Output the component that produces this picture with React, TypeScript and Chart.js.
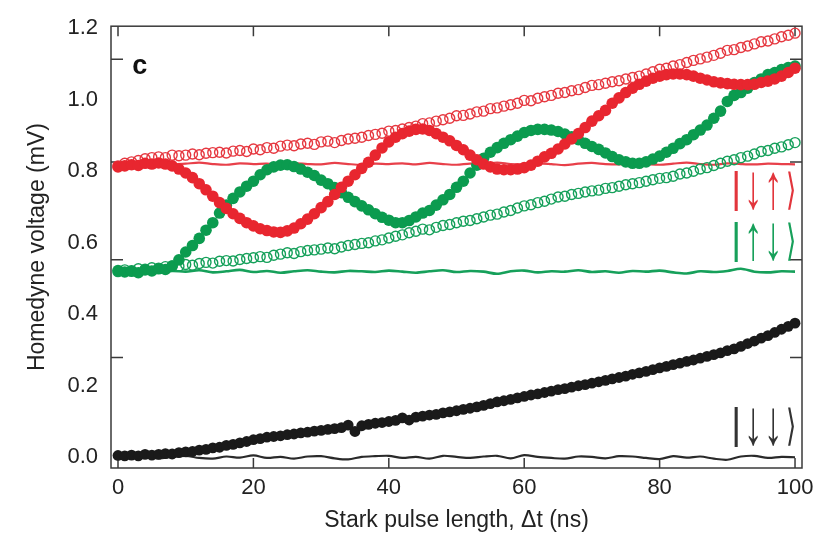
import React, { useEffect, useRef } from "react";
import { Chart, registerables } from "chart.js";

Chart.register(...registerables);

// ---- data ----
const timeNs = [
  0, 1, 2, 3, 4, 5, 6, 7, 8, 9, 10, 11, 12, 13, 14, 15, 16, 17, 18, 19, 20,
  21, 22, 23, 24, 25, 26, 27, 28, 29, 30, 31, 32, 33, 34, 35, 36, 37, 38, 39, 40,
  41, 42, 43, 44, 45, 46, 47, 48, 49, 50, 51, 52, 53, 54, 55, 56, 57, 58, 59, 60,
  61, 62, 63, 64, 65, 66, 67, 68, 69, 70, 71, 72, 73, 74, 75, 76, 77, 78, 79, 80,
  81, 82, 83, 84, 85, 86, 87, 88, 89, 90, 91, 92, 93, 94, 95, 96, 97, 98, 99, 100,
];

const lineTimeNs = [
  0, 2, 4, 6, 8, 10, 12, 14, 16, 18, 20, 22, 24, 26, 28, 30, 32, 34, 36, 38, 40,
  42, 44, 46, 48, 50, 52, 54, 56, 58, 60, 62, 64, 66, 68, 70, 72, 74, 76, 78, 80,
  82, 84, 86, 88, 90, 92, 94, 96, 98, 100,
];

const redFilled = [
  0.812, 0.815, 0.818, 0.816, 0.822, 0.82, 0.823, 0.82, 0.815, 0.806,
  0.795, 0.782, 0.765, 0.748, 0.73, 0.712, 0.696, 0.681, 0.668, 0.656,
  0.647, 0.639, 0.634, 0.63, 0.629, 0.633, 0.641, 0.653, 0.666, 0.681,
  0.698, 0.715, 0.735, 0.755, 0.772, 0.79, 0.808, 0.825, 0.845, 0.865,
  0.882, 0.895, 0.905, 0.912, 0.917, 0.918, 0.914, 0.905, 0.895, 0.885,
  0.872, 0.86, 0.845, 0.832, 0.82, 0.812, 0.806, 0.804, 0.804, 0.806,
  0.81, 0.817, 0.828, 0.84, 0.85, 0.862, 0.876, 0.89, 0.905, 0.922,
  0.94, 0.955, 0.97, 0.99, 1.005, 1.02, 1.032, 1.043, 1.052, 1.06,
  1.066, 1.07, 1.072, 1.072, 1.07, 1.066, 1.06, 1.055, 1.05, 1.047,
  1.045, 1.043, 1.042, 1.042, 1.043, 1.048, 1.052, 1.058, 1.066, 1.076,
  1.088,
];

const redOpen = [
  0.815, 0.822, 0.826, 0.83, 0.835, 0.838, 0.84, 0.838, 0.845, 0.843,
  0.845, 0.848, 0.846, 0.85, 0.852, 0.853, 0.851, 0.856, 0.858, 0.855,
  0.862, 0.86, 0.866, 0.864, 0.87, 0.873, 0.871, 0.876, 0.878, 0.875,
  0.882, 0.884, 0.88, 0.886, 0.89, 0.892, 0.895, 0.9, 0.903, 0.906,
  0.912, 0.914, 0.918, 0.922, 0.926, 0.933, 0.935, 0.94, 0.944, 0.948,
  0.955, 0.956, 0.96, 0.966, 0.968, 0.975, 0.977, 0.982, 0.986, 0.99,
  0.998, 0.997, 1.004, 1.008, 1.012, 1.018, 1.02, 1.025, 1.028, 1.034,
  1.04, 1.042, 1.046, 1.05, 1.053, 1.058, 1.062, 1.066, 1.072, 1.078,
  1.085, 1.088, 1.094, 1.098, 1.104, 1.11, 1.114, 1.119, 1.124, 1.13,
  1.138, 1.14, 1.146, 1.15, 1.156, 1.162, 1.164, 1.17, 1.176, 1.18,
  1.186,
];

const greenFilled = [
  0.522, 0.518, 0.52, 0.516, 0.524, 0.521, 0.527, 0.525, 0.535, 0.552,
  0.574, 0.592, 0.612, 0.635, 0.656, 0.683, 0.705, 0.724, 0.742, 0.758,
  0.772, 0.79, 0.804, 0.812, 0.817, 0.818, 0.813, 0.806, 0.797, 0.788,
  0.775, 0.765, 0.754, 0.74, 0.727, 0.715, 0.703, 0.692, 0.681, 0.671,
  0.663, 0.656, 0.656, 0.662, 0.672, 0.683, 0.69, 0.705, 0.72, 0.735,
  0.755, 0.772, 0.795, 0.817, 0.836, 0.853, 0.866, 0.878, 0.888, 0.898,
  0.908, 0.914, 0.917, 0.917, 0.915, 0.911, 0.904, 0.896, 0.888, 0.878,
  0.869, 0.861, 0.851, 0.841, 0.832, 0.826, 0.822, 0.822, 0.826, 0.834,
  0.842, 0.853, 0.864, 0.877, 0.888, 0.902, 0.915, 0.929, 0.948, 0.968,
  0.995, 1.012, 1.02, 1.032, 1.048, 1.058, 1.07, 1.076, 1.084, 1.09,
  1.094,
];

const greenOpen = [
  0.519, 0.524, 0.522, 0.527, 0.526, 0.53, 0.529, 0.533, 0.535, 0.534,
  0.539, 0.537, 0.542, 0.545, 0.543, 0.548, 0.55, 0.549, 0.553, 0.556,
  0.558, 0.561, 0.559, 0.565, 0.568, 0.572, 0.57, 0.575, 0.578, 0.58,
  0.582, 0.585, 0.583, 0.588, 0.592, 0.595, 0.598, 0.6, 0.605, 0.608,
  0.613, 0.618, 0.622, 0.628, 0.632, 0.638, 0.636, 0.643, 0.648, 0.651,
  0.656, 0.66, 0.662, 0.667, 0.672, 0.677, 0.68, 0.686, 0.69, 0.697,
  0.703, 0.706, 0.712, 0.716, 0.722, 0.728, 0.73, 0.735, 0.738, 0.742,
  0.745, 0.747, 0.752, 0.754, 0.758, 0.762, 0.765, 0.768, 0.772, 0.776,
  0.78, 0.782, 0.786, 0.792, 0.795, 0.8, 0.806, 0.81, 0.816, 0.822,
  0.828, 0.832, 0.838, 0.842, 0.848, 0.855, 0.858, 0.864, 0.868, 0.874,
  0.88,
];

const blackFilled = [
  0.005, 0.004, 0.006, 0.004, 0.008, 0.006, 0.008, 0.01, 0.009, 0.013,
  0.015, 0.016, 0.02, 0.022, 0.026, 0.028, 0.033, 0.036, 0.04, 0.044,
  0.049, 0.052, 0.056, 0.058, 0.06, 0.063, 0.065, 0.068, 0.07, 0.073,
  0.075, 0.078, 0.08, 0.083, 0.09, 0.072, 0.088, 0.092, 0.095, 0.097,
  0.1, 0.103, 0.11, 0.104, 0.112, 0.115, 0.118, 0.12, 0.124, 0.127,
  0.13, 0.134, 0.137, 0.141, 0.145, 0.15, 0.155, 0.158, 0.162, 0.166,
  0.17, 0.174, 0.177, 0.181, 0.185, 0.189, 0.192, 0.196, 0.2, 0.203,
  0.207, 0.211, 0.215, 0.219, 0.223, 0.227, 0.232, 0.236, 0.24, 0.245,
  0.25, 0.254, 0.259, 0.263, 0.268, 0.272, 0.277, 0.282, 0.287, 0.292,
  0.298, 0.303, 0.31, 0.318, 0.325, 0.333, 0.34, 0.349, 0.358, 0.366,
  0.375,
];

const redLine = [
  0.818, 0.822, 0.82, 0.823, 0.819, 0.821, 0.824, 0.82, 0.818, 0.822,
  0.82, 0.821, 0.817, 0.822, 0.82, 0.819, 0.823, 0.82, 0.818, 0.821,
  0.82, 0.822, 0.819, 0.823, 0.82, 0.818, 0.821, 0.82, 0.824, 0.82,
  0.819, 0.822, 0.82, 0.817, 0.821, 0.823, 0.82, 0.819, 0.822, 0.82,
  0.818, 0.821, 0.824, 0.82, 0.818, 0.822, 0.82, 0.819, 0.821, 0.82,
  0.819,
];

const greenLine = [
  0.522, 0.518, 0.52, 0.516, 0.521, 0.519, 0.523, 0.517, 0.52, 0.524,
  0.518, 0.521, 0.516, 0.52, 0.523, 0.519, 0.517, 0.521, 0.52, 0.518,
  0.522, 0.519, 0.516, 0.52, 0.523, 0.518, 0.521, 0.519, 0.513, 0.52,
  0.522, 0.517, 0.52, 0.519, 0.523, 0.518, 0.52, 0.516, 0.521, 0.519,
  0.522, 0.517, 0.514, 0.52, 0.518, 0.521, 0.527, 0.519, 0.517, 0.52,
  0.519,
];

const blackLine = [
  0.003, -0.002, 0.002, -0.003, 0.001, 0.004, -0.002, -0.004, 0.002, -0.001,
  0.005, -0.002, 0.001, -0.004, 0.002, 0.003, -0.003, -0.006, 0.001, 0.003,
  0.004, -0.002, 0.001, -0.004, 0.004, 0.001, -0.002, 0.002, 0.004, -0.003,
  0.006, 0.001, -0.002, -0.004, 0.002, 0.001, -0.003, 0.003, 0.002, -0.002,
  -0.005, 0.003, -0.001, 0.002, -0.004, -0.007, 0.002, 0.004, -0.002, 0.001,
  0.0,
];

const xTickValues = [0, 20, 40, 60, 80, 100];
const yTickValues = [0, 0.2, 0.4, 0.6, 0.8, 1.0, 1.2];
const xTickMarks = [0, 20, 40, 60, 80, 100];
const yTickMarks = [0.279, 0.552, 0.826, 1.113];

const kets = [
  { glyphs: ["|", "\u2193", "\u2191", "\u27E9"], x: 91.3, y: 0.744, color: "#E2353C" },
  { glyphs: ["|", "\u2191", "\u2193", "\u27E9"], x: 91.3, y: 0.601, color: "#17A05A" },
  { glyphs: ["|", "\u2193", "\u2193", "\u27E9"], x: 91.3, y: 0.085, color: "#333333" },
];
const panelLabel = { text: "c", x: 3.2, y: 1.093 };

const FONT = "'Liberation Sans', Arial, Helvetica, sans-serif";
const RED = "#E8262F";
const GREEN = "#0B9B4F";

export default function App() {
  const ref = useRef<HTMLCanvasElement>(null);

  useEffect(() => {
    if (!ref.current) return;
    const pts = (ys: number[], xs: number[]) => ys.map((y, i) => ({ x: xs[i], y }));

    const decor = {
      id: "decor",
      beforeDatasetsDraw(chart: any) {
        const { ctx, chartArea: a, scales } = chart;
        const xs = scales.x;
        const ys = scales.y;
        ctx.save();
        ctx.strokeStyle = "#3a3a3a";
        ctx.lineWidth = 1.5;
        ctx.strokeRect(a.left, a.top, a.right - a.left, a.bottom - a.top);
        ctx.beginPath();
        for (const v of xTickMarks) {
          const px = xs.getPixelForValue(v);
          ctx.moveTo(px, a.bottom);
          ctx.lineTo(px, a.bottom - 10);
          ctx.moveTo(px, a.top);
          ctx.lineTo(px, a.top + 10);
        }
        for (const v of yTickMarks) {
          const py = ys.getPixelForValue(v);
          ctx.moveTo(a.left, py);
          ctx.lineTo(a.left + 12, py);
          ctx.moveTo(a.right, py);
          ctx.lineTo(a.right - 12, py);
        }
        ctx.stroke();
        ctx.restore();
      },
      afterDatasetsDraw(chart: any) {
        const { ctx, scales } = chart;
        const xs = scales.x;
        const ys = scales.y;
        ctx.save();
        // panel label
        ctx.fillStyle = "#111";
        ctx.font = `bold 27px ${FONT}`;
        ctx.textAlign = "center";
        ctx.textBaseline = "middle";
        ctx.fillText(panelLabel.text, xs.getPixelForValue(panelLabel.x), ys.getPixelForValue(panelLabel.y));
        // kets
        const offsets = [0, 17, 37, 55];
        const targetH = 40;
        ctx.font = `38px ${FONT}`;
        ctx.textAlign = "center";
        ctx.textBaseline = "alphabetic";
        for (const k of kets) {
          const px = xs.getPixelForValue(k.x);
          const py = ys.getPixelForValue(k.y);
          ctx.fillStyle = k.color;
          k.glyphs.forEach((g, i) => {
            const m = ctx.measureText(g);
            const asc = m.actualBoundingBoxAscent;
            const desc = m.actualBoundingBoxDescent;
            const h = Math.max(asc + desc, 1);
            const s = targetH / h;
            ctx.save();
            ctx.translate(px + offsets[i], py);
            ctx.scale(i === 3 ? 0.7 : 1, s);
            ctx.fillText(g, 0, (asc - desc) / 2);
            ctx.restore();
          });
        }
        ctx.restore();
      },
    };

    const chart = new Chart(ref.current, {
      type: "scatter",
      data: {
        datasets: [
          {
            data: pts(redFilled, timeNs),
            pointRadius: 5.8,
            pointBackgroundColor: RED,
            pointBorderColor: RED,
            pointBorderWidth: 0,
            showLine: false,
            order: 0,
            clip: false,
          },
          {
            data: pts(greenFilled, timeNs),
            pointRadius: 5.8,
            pointBackgroundColor: GREEN,
            pointBorderColor: GREEN,
            pointBorderWidth: 0,
            showLine: false,
            order: 1,
            clip: false,
          },
          {
            data: pts(blackFilled, timeNs),
            pointRadius: 5.4,
            pointBackgroundColor: "#1a1a1a",
            pointBorderColor: "#1a1a1a",
            pointBorderWidth: 0,
            showLine: false,
            order: 2,
            clip: false,
          },
          {
            data: pts(redOpen, timeNs),
            pointRadius: 5,
            pointBackgroundColor: "rgba(0,0,0,0)",
            pointBorderColor: "#E63840",
            pointBorderWidth: 1.4,
            showLine: false,
            order: 3,
            clip: false,
          },
          {
            data: pts(greenOpen, timeNs),
            pointRadius: 5,
            pointBackgroundColor: "rgba(0,0,0,0)",
            pointBorderColor: "#15A05A",
            pointBorderWidth: 1.4,
            showLine: false,
            order: 4,
            clip: false,
          },
          {
            data: pts(redLine, lineTimeNs),
            showLine: true,
            pointRadius: 0,
            borderColor: "#E8404A",
            borderWidth: 2.2,
            tension: 0.3,
            order: 5,
          },
          {
            data: pts(greenLine, lineTimeNs),
            showLine: true,
            pointRadius: 0,
            borderColor: "#16A05A",
            borderWidth: 2.6,
            tension: 0.3,
            order: 6,
          },
          {
            data: pts(blackLine, lineTimeNs),
            showLine: true,
            pointRadius: 0,
            borderColor: "#2a2a2a",
            borderWidth: 2.2,
            tension: 0.3,
            order: 7,
          },
        ],
      },
      options: {
        responsive: false,
        animation: false,
        events: [],
        layout: { padding: { top: 16, right: 33, bottom: 0, left: 0 } },
        plugins: {
          legend: { display: false },
          tooltip: { enabled: false },
        },
        scales: {
          x: {
            type: "linear",
            min: -1.034,
            max: 101.03,
            afterBuildTicks: (s: any) => {
              s.ticks = xTickValues.map((v) => ({ value: v }));
            },
            afterFit: (s: any) => {
              s.height = 66;
            },
            grid: { display: false, drawTicks: false },
            border: { display: false },
            ticks: {
              autoSkip: false,
              maxRotation: 0,
              padding: 7,
              color: "#222",
              font: { size: 22, family: FONT },
              callback: (v: any) => String(v),
            },
            title: {
              display: true,
              text: "Stark pulse length, \u0394t (ns)",
              color: "#222",
              font: { size: 23, family: FONT },
              padding: { top: 0, bottom: 0 },
            },
          },
          y: {
            type: "linear",
            min: -0.0301,
            max: 1.2055,
            afterBuildTicks: (s: any) => {
              s.ticks = yTickValues.map((v) => ({ value: v }));
            },
            afterFit: (s: any) => {
              s.width = 111;
            },
            grid: { display: false, drawTicks: false },
            border: { display: false },
            ticks: {
              autoSkip: false,
              padding: 13,
              color: "#222",
              font: { size: 22, family: FONT },
              callback: (v: any) => Number(v).toFixed(1),
            },
            title: {
              display: true,
              text: "Homedyne voltage (mV)",
              color: "#222",
              font: { size: 23, family: FONT },
              padding: { top: 24, bottom: 0 },
            },
          },
        },
      },
      plugins: [decor],
    } as any);

    return () => chart.destroy();
  }, []);

  return (
    <div style={{ position: "fixed", left: 0, top: 0, width: 835, height: 534, background: "#fff" }}>
      <canvas ref={ref} width={835} height={534} style={{ display: "block" }} />
    </div>
  );
}
